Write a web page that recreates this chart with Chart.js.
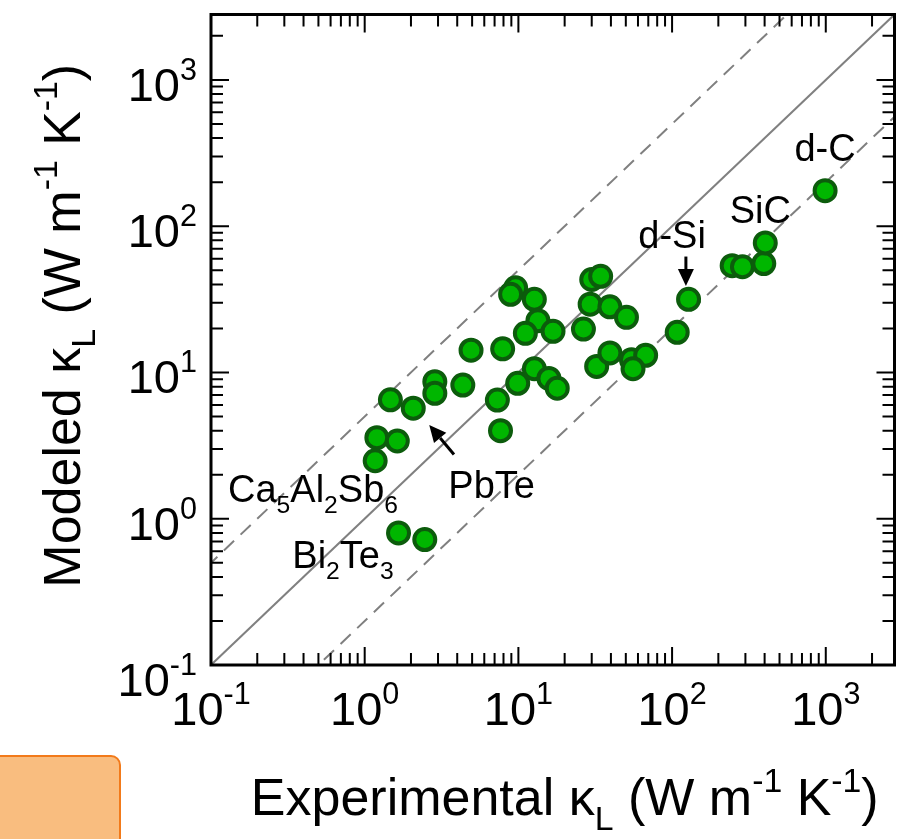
<!DOCTYPE html>
<html>
<head>
<meta charset="utf-8">
<script src="https://cdn.jsdelivr.net/npm/chart.js@4/dist/chart.umd.min.js"></script>
<style>
  html, body { margin: 0; padding: 0; background: #ffffff; }
  #wrap { position: relative; width: 909px; height: 839px; }
</style>
</head>
<body>
<div id="wrap"><canvas id="chart" width="909" height="839"></canvas></div>
<script>
// Lattice thermal conductivity, W m^-1 K^-1
const experimentalK = [1.47, 2.07, 2.86, 2.86, 4.35, 4.92, 1.20, 1.63, 1.17, 1.66, 2.46, 7.3, 7.65,
  9.6, 8.9, 12.7, 7.9, 13.4, 11.1, 16.8, 9.9, 12.7, 15.8, 17.9, 30.0, 34.3, 29.3, 39.4, 50.5, 26.5,
  32.3, 39.4, 54.4, 67.3, 55.7, 108, 128, 246, 287, 395, 404, 990];
const modeledK = [6.5, 5.7, 8.65, 7.2, 8.2, 14.2, 3.58, 3.4, 2.49, 0.80, 0.72, 6.47, 4.0,
  37.9, 34.2, 31.6, 14.5, 22.6, 18.5, 19.1, 8.43, 10.6, 9.1, 7.8, 43.2, 45.4, 29.3, 28.1, 23.8, 19.8,
  11.0, 13.6, 12.2, 13.1, 10.6, 18.8, 31.6, 53.7, 52.8, 55.5, 76.8, 175];

// Axis range and decade labels (same on both axes)
const axisMin = 0.1;
const axisMax = 2800;
const decadeValues = [0.1, 1, 10, 100, 1000];
const decadeExponents = ['-1', '0', '1', '2', '3'];

// Parity line and factor-of-five band
const guideEnds = [0.01, 10000];
const guideFactors = [1, 5, 0.2];

// Compound labels: anchor in data units
const calloutText = ['d-C', 'SiC', 'd-Si', 'PbTe', 'Ca5Al2Sb6', 'Bi2Te3'];
const calloutX = [990, 375, 100, 6.7, 0.129, 0.338];
const calloutY = [340, 128, 87, 1.70, 1.30, 0.459];

// Arrows: tail -> head, data units
const arrowTailX = [123, 3.81];
const arrowTailY = [62, 2.75];
const arrowHeadX = [123, 2.63];
const arrowHeadY = [39, 4.38];

const FONT = '"Liberation Sans", Arial, Helvetica, sans-serif';

function guideData(f) {
  return guideEnds.map(v => ({ x: v, y: v * f }));
}

// rich text: segments [{t, mode}] mode: 'sub' | 'sup' | undefined
function richWidth(ctx, segs, size) {
  let w = 0;
  segs.forEach(s => {
    const sz = s.mode ? size * 0.65 : size;
    ctx.font = sz + 'px ' + FONT;
    w += ctx.measureText(s.t).width;
  });
  return w;
}
function drawRich(ctx, segs, x, y, size, align) {
  const w = richWidth(ctx, segs, size);
  let cx = align === 'center' ? x - w / 2 : (align === 'right' ? x - w : x);
  ctx.textAlign = 'left';
  ctx.textBaseline = 'alphabetic';
  segs.forEach(s => {
    const sz = s.mode ? size * 0.65 : size;
    ctx.font = sz + 'px ' + FONT;
    let dy = 0;
    if (s.mode === 'sup') dy = -size * 0.45;
    if (s.mode === 'sub') dy = size * 0.28;
    ctx.fillText(s.t, cx, y + dy);
    cx += ctx.measureText(s.t).width;
  });
}
function chemSegs(name) {
  const out = [];
  for (const ch of name) {
    const isDigit = ch >= '0' && ch <= '9';
    const last = out[out.length - 1];
    const mode = isDigit ? 'sub' : undefined;
    if (last && last.mode === mode) last.t += ch; else out.push({ t: ch, mode });
  }
  return out;
}

function arrow(ctx, x1, y1, x2, y2) {
  const ang = Math.atan2(y2 - y1, x2 - x1);
  const head = 17, half = 8;
  const bx = x2 - head * Math.cos(ang), by = y2 - head * Math.sin(ang);
  ctx.strokeStyle = '#000';
  ctx.lineWidth = 3;
  ctx.beginPath();
  ctx.moveTo(x1, y1);
  ctx.lineTo(bx, by);
  ctx.stroke();
  ctx.fillStyle = '#000';
  ctx.beginPath();
  ctx.moveTo(x2, y2);
  ctx.lineTo(bx + half * Math.sin(ang), by - half * Math.cos(ang));
  ctx.lineTo(bx - half * Math.sin(ang), by + half * Math.cos(ang));
  ctx.closePath();
  ctx.fill();
}

const framePlugin = {
  id: 'framePlugin',
  afterDraw(chart) {
    const ctx = chart.ctx;
    const xs = chart.scales.x, ys = chart.scales.y;
    const a = chart.chartArea;
    ctx.save();

    // inward ticks on all four sides
    ctx.strokeStyle = '#000';
    ctx.lineWidth = 2;
    const majorLen = 18, minorLen = 12;
    for (let e = -1; e <= 3; e++) {
      for (let m = 1; m <= 9; m++) {
        const v = m * Math.pow(10, e);
        if (v < axisMin || v > axisMax) continue;
        const len = m === 1 ? majorLen : minorLen;
        const px = xs.getPixelForValue(v);
        const py = ys.getPixelForValue(v);
        ctx.beginPath();
        ctx.moveTo(px, a.bottom); ctx.lineTo(px, a.bottom - len);
        ctx.moveTo(px, a.top); ctx.lineTo(px, a.top + len);
        ctx.moveTo(a.left, py); ctx.lineTo(a.left + len, py);
        ctx.moveTo(a.right, py); ctx.lineTo(a.right - len, py);
        ctx.stroke();
      }
    }

    // frame
    ctx.lineWidth = 3;
    ctx.strokeRect(a.left, a.top, a.right - a.left, a.bottom - a.top);

    // decade labels (the lowest y label sits a little lower to clear the x labels)
    ctx.fillStyle = '#000';
    const tickSize = 47;
    decadeValues.forEach((v, i) => {
      const segs = [{ t: '10' }, { t: decadeExponents[i], mode: 'sup' }];
      drawRich(ctx, segs, xs.getPixelForValue(v), a.bottom + 60, tickSize, 'center');
      const drop = i === 0 ? 10 : 0;
      drawRich(ctx, segs, a.left - 14, ys.getPixelForValue(v) + 21 + drop, tickSize, 'right');
    });

    // axis titles
    const titleSize = 52;
    drawRich(ctx, [
      { t: 'Experimental \u03ba' }, { t: 'L', mode: 'sub' }, { t: ' (W m' }, { t: '-1', mode: 'sup' },
      { t: ' K' }, { t: '-1', mode: 'sup' }, { t: ')' }
    ], (a.left + a.right) / 2 + 12, 815, titleSize, 'center');
    ctx.save();
    ctx.translate(80, (a.top + a.bottom) / 2 - 14);
    ctx.rotate(-Math.PI / 2);
    drawRich(ctx, [
      { t: 'Modeled \u03ba' }, { t: 'L', mode: 'sub' }, { t: ' (W m' }, { t: '-1', mode: 'sup' },
      { t: ' K' }, { t: '-1', mode: 'sup' }, { t: ')' }
    ], 0, 0, titleSize, 'center');
    ctx.restore();

    // compound labels
    const labSize = 38;
    calloutText.forEach((name, i) => {
      const px = xs.getPixelForValue(calloutX[i]);
      const py = ys.getPixelForValue(calloutY[i]);
      const segs = chemSegs(name);
      const centered = i < 4;
      drawRich(ctx, segs, px, centered ? py + 13 : py, labSize, centered ? 'center' : 'left');
    });

    // arrows
    arrowTailX.forEach((_, i) => {
      arrow(ctx,
        xs.getPixelForValue(arrowTailX[i]), ys.getPixelForValue(arrowTailY[i]),
        xs.getPixelForValue(arrowHeadX[i]), ys.getPixelForValue(arrowHeadY[i]));
    });

    ctx.restore();
  }
};

// orange note box in the lower left corner
const boxPlugin = {
  id: 'boxPlugin',
  afterDraw(chart) {
    const ctx = chart.ctx;
    ctx.save();
    ctx.fillStyle = '#f9bd7f';
    ctx.strokeStyle = '#f27a1a';
    ctx.lineWidth = 2;
    ctx.beginPath();
    ctx.roundRect(-10, 756, 130, 100, 9);
    ctx.fill();
    ctx.stroke();
    ctx.restore();
  }
};

const guideStyles = [
  { borderDash: [] },
  { borderDash: [14, 9] },
  { borderDash: [14, 9] }
];

new Chart(document.getElementById('chart'), {
  type: 'scatter',
  data: {
    datasets: [
      {
        label: 'compounds',
        data: experimentalK.map((x, i) => ({ x, y: modeledK[i] })),
        pointRadius: 10.5,
        pointHoverRadius: 10.5,
        pointBackgroundColor: '#00b600',
        pointBorderColor: '#0c5c0c',
        pointBorderWidth: 4,
        order: 0
      },
      ...guideFactors.map((f, i) => ({
        type: 'line',
        label: 'guide ' + f,
        data: guideData(f),
        showLine: true,
        pointRadius: 0,
        borderColor: '#808080',
        borderWidth: 2,
        borderDash: guideStyles[i].borderDash,
        fill: false,
        order: 1
      }))
    ]
  },
  options: {
    responsive: false,
    animation: false,
    devicePixelRatio: 1,
    layout: { padding: { left: 211, right: 9, top: 8, bottom: 174 } },
    plugins: { legend: { display: false }, tooltip: { enabled: false } },
    scales: {
      x: { type: 'logarithmic', min: axisMin, max: axisMax, display: false },
      y: { type: 'logarithmic', min: axisMin, max: axisMax, display: false }
    }
  },
  plugins: [framePlugin, boxPlugin]
});
</script>
</body>
</html>
